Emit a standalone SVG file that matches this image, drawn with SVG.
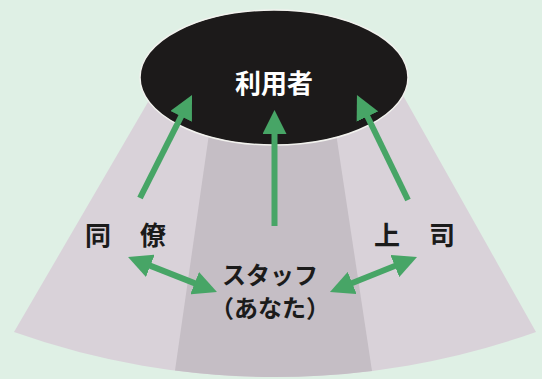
<svg xmlns="http://www.w3.org/2000/svg" width="542" height="379" viewBox="0 0 542 379">
  <style>
    .lbl { font-family: "Noto Sans CJK JP", "Noto Sans", sans-serif; font-weight: 700; fill: #1b1b1b; }
    .white { fill: #ffffff; }
    .arr { stroke: #47a566; stroke-width: 6; fill: none; }
  </style>
  <defs>
    <marker id="head" viewBox="0 0 24 24" refX="12" refY="12" markerWidth="24" markerHeight="24" markerUnits="userSpaceOnUse" orient="auto-start-reverse">
      <path d="M0,0 L24,12 L0,24 Z" fill="#47a566"/>
    </marker>
  </defs>
  <rect x="0" y="0" width="542" height="379" fill="#dff0e5"/>
  <g id="fan">
    <path d="M155,90 L14,332 A779,779 0 0 0 536,332 L400,90 Z" fill="#d9d2d9"/>
    <path d="M211,120 L175,370.6 A779,779 0 0 0 372,370.9 L334,120 Z" fill="#c5bec5"/>
  </g>
  <g id="user">
    <ellipse cx="274" cy="77.5" rx="134" ry="67.5" fill="#1c1a1a" stroke="#f2f2ee" stroke-width="1.5"/>
    <text class="lbl white" x="274" y="93" font-size="26" text-anchor="middle">利用者</text>
  </g>
  <g id="colleague">
    <text class="lbl" x="85 140" y="245" font-size="26">同僚</text>
  </g>
  <g id="boss">
    <text class="lbl" x="374 429" y="245" font-size="26">上司</text>
  </g>
  <g id="staff">
    <text class="lbl" x="270" y="284" font-size="24" text-anchor="middle">スタッフ</text>
    <text class="lbl" x="270" y="317" font-size="24" text-anchor="middle">（あなた）</text>
  </g>
  <g id="connectors">
    <line class="arr" x1="140" y1="198" x2="186.6" y2="105.7" marker-end="url(#head)"/>
    <line class="arr" x1="274.5" y1="226" x2="274.5" y2="122" marker-end="url(#head)"/>
    <line class="arr" x1="408" y1="200" x2="362.2" y2="105.8" marker-end="url(#head)"/>
    <line class="arr" x1="139.2" y1="261.4" x2="205.8" y2="287.6" marker-start="url(#head)" marker-end="url(#head)"/>
    <line class="arr" x1="341.1" y1="287.5" x2="405.9" y2="261.5" marker-start="url(#head)" marker-end="url(#head)"/>
  </g>
</svg>
